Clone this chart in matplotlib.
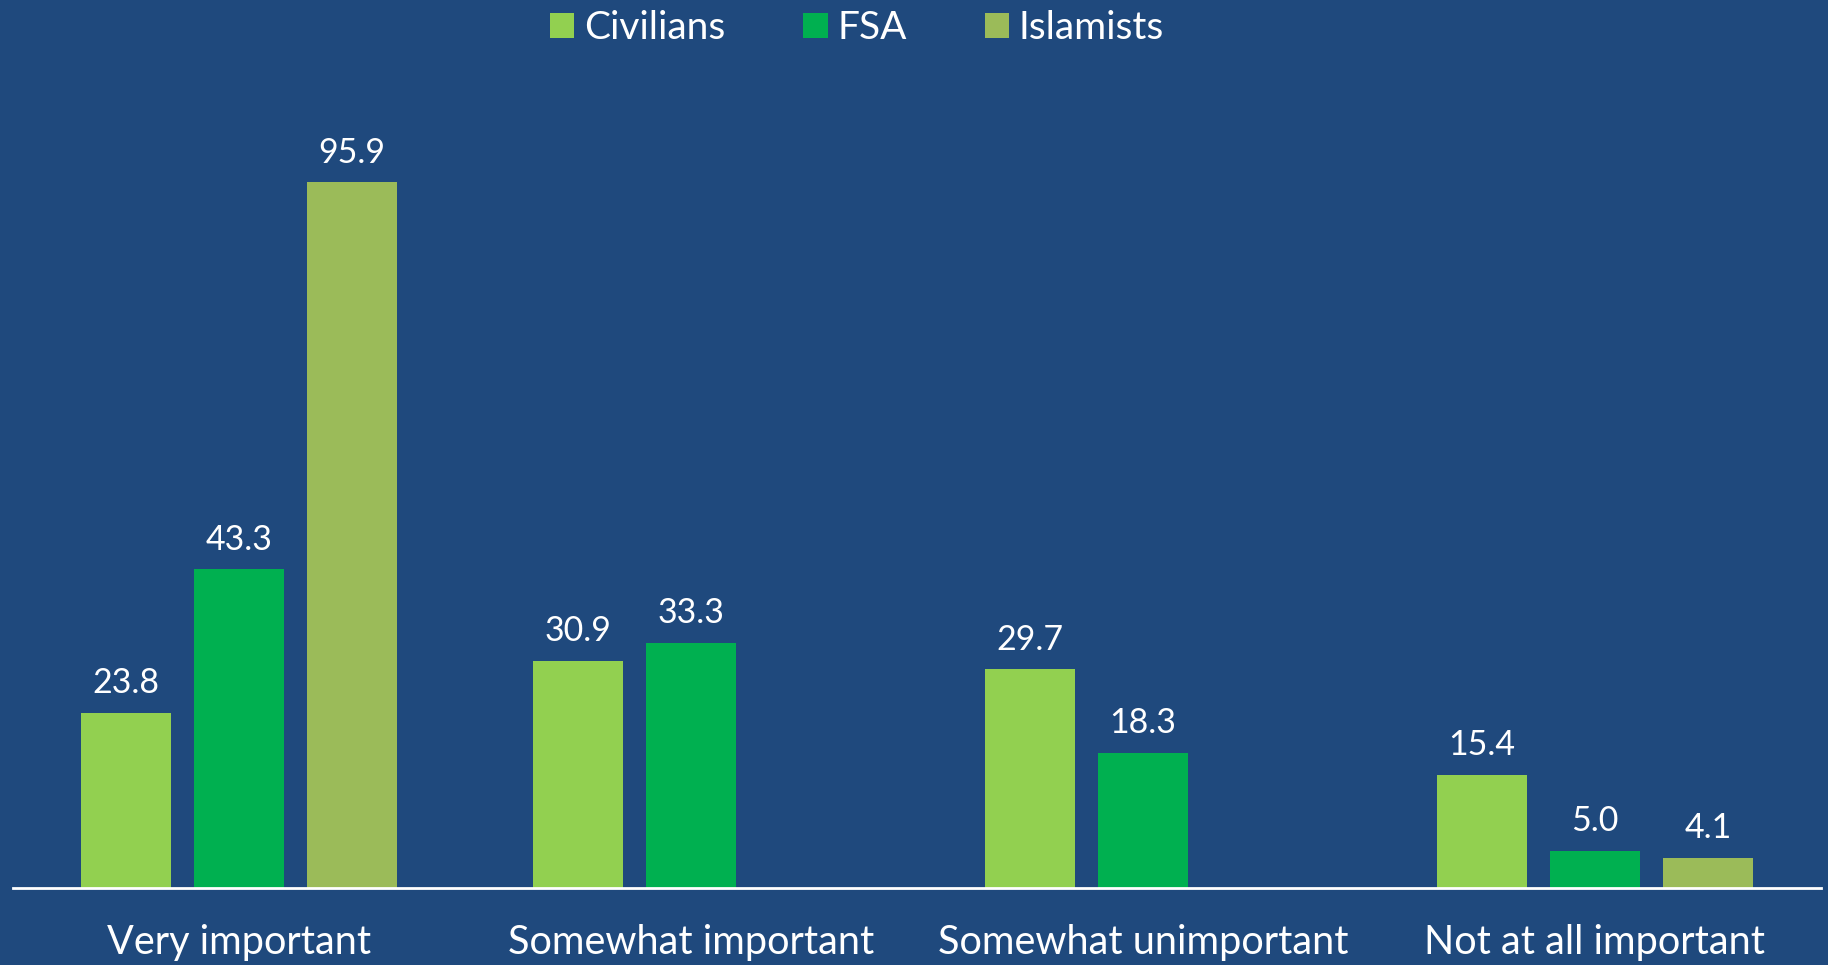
import matplotlib
matplotlib.use("Agg")
import matplotlib.pyplot as plt
import numpy as np

categories = ["Very important", "Somewhat important", "Somewhat unimportant", "Not at all important"]
series_names = ["Civilians", "FSA", "Islamists"]
civilians = [23.8, 30.9, 29.7, 15.4]
fsa = [43.3, 33.3, 18.3, 5.0]
islamists = [95.9, None, None, 4.1]
colors = ["#92D050", "#00B050", "#9BBB59"]
bg = "#1F497D"

plt.rcParams['font.family'] = ['Lato', 'DejaVu Sans']

W, H = 1828, 965
fig = plt.figure(figsize=(W/100, H/100), dpi=100, facecolor=bg)
left, right, bottom = 13/W, 1821/W, (H-888)/H
ymax = 110
top_px = 888 - ymax*7.357
ax = fig.add_axes([left, bottom, right-left, (888-top_px)/H])
ax.set_facecolor(bg)

x = np.arange(len(categories))
offsets = [-0.25, 0, 0.25]
handles = []
for s, (name, vals, col, off) in enumerate(zip(series_names, [civilians, fsa, islamists], colors, offsets)):
    xs = [xi + off for xi, v in zip(x, vals) if v is not None]
    vs = [v for v in vals if v is not None]
    bars = ax.bar(xs, vs, width=0.2, color=col, label=name, zorder=2)
    handles.append(bars)
    for xi, v in zip(xs, vs):
        ax.annotate(f"{v:.1f}", (xi, v), xytext=(0, 10), textcoords="offset points",
                    ha="center", va="bottom", color="white", fontsize=24.5)

ax.set_xlim(-0.5, 3.5)
ax.set_ylim(0, ymax)
ax.set_yticks([])
ax.set_xticks(x)
ax.set_xticklabels(categories, color="white", fontsize=28.5)
ax.tick_params(axis="x", length=0, pad=26)
for sp in ["top", "left", "right"]:
    ax.spines[sp].set_visible(False)
ax.spines["bottom"].set_color("white")
ax.spines["bottom"].set_linewidth(2)
ax.spines["bottom"].set_zorder(3)

leg = fig.legend(handles=handles, labels=series_names, loc="center", bbox_to_anchor=(857/W, 1-28/H),
                 ncol=3, frameon=False, fontsize=28, handlelength=0.63, handleheight=0.63,
                 columnspacing=2.0, handletextpad=0.25)
for t in leg.get_texts():
    t.set_color("white")

fig.savefig("out.png", dpi=100, facecolor=bg)
